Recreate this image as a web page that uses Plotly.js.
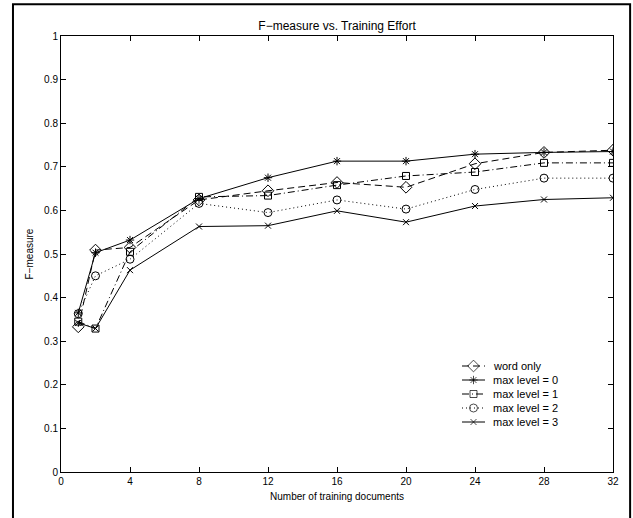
<!DOCTYPE html>
<html>
<head>
<meta charset="utf-8">
<script src="https://cdn.plot.ly/plotly-3.0.1.min.js"></script>
<style>html,body{margin:0;padding:0;background:#fff;}</style>
</head>
<body>
<div id="chart" style="width:633px;height:518px;"></div>
<script>
// Data
const trainingDocs = [1, 2, 4, 8, 12, 16, 20, 24, 28, 32];
const wordOnly  = [0.333, 0.509, 0.515, 0.624, 0.645, 0.664, 0.653, 0.707, 0.733, 0.738];
const maxLevel0 = [0.365, 0.503, 0.532, 0.627, 0.675, 0.713, 0.713, 0.729, 0.733, 0.735];
const maxLevel1 = [0.345, 0.329, 0.505, 0.631, 0.634, 0.658, 0.679, 0.688, 0.709, 0.709];
const maxLevel2 = [0.363, 0.450, 0.488, 0.616, 0.595, 0.624, 0.603, 0.648, 0.674, 0.674];
const maxLevel3 = [0.342, 0.329, 0.463, 0.563, 0.565, 0.599, 0.573, 0.610, 0.625, 0.629];
const seriesNames = ['word only', 'max level = 0', 'max level = 1', 'max level = 2', 'max level = 3'];
const xTicks = [0, 4, 8, 12, 16, 20, 24, 28, 32];
const yTicks = [0, 0.1, 0.2, 0.3, 0.4, 0.5, 0.6, 0.7, 0.8, 0.9, 1];

const fam = 'Liberation Sans, Arial, Helvetica, sans-serif';
const font = {family: fam, size: 10, color: '#000'};
const titleFont = {family: fam, size: 12, color: '#000'};
const legendFont = {family: fam, size: 11, color: '#000'};

// styles per series
const styles = [
  {symbol: 'diamond-open', size: 9, dash: '7px,4px'},
  {symbol: 'asterisk-open', size: 7, dash: 'solid'},
  {symbol: 'square-open', size: 7, dash: '7px,3px,1px,3px'},
  {symbol: 'circle-open', size: 8, dash: '1px,3px'},
  {symbol: 'x-thin-open', size: 6, dash: 'solid'}
];
const seriesValues = [wordOnly, maxLevel0, maxLevel1, maxLevel2, maxLevel3];

const data = seriesValues.map((vals, i) => ({
  x: trainingDocs, y: vals, name: seriesNames[i], type: 'scatter', mode: 'lines+markers',
  showlegend: false,
  line: {color: '#000', width: 1, dash: styles[i].dash},
  marker: {symbol: styles[i].symbol, size: styles[i].size, color: '#000', line: {color: '#000', width: 1}}
}));

// Compact MATLAB-style legend, drawn on a hidden pixel-space overlay axis
const legendLeft = 462, legendMid = 473.5, legendRight = 485, legendText = 491;
const legendTop = 366, legendStep = 14;
seriesNames.forEach((name, i) => {
  const yy = legendTop + i * legendStep;
  data.push({
    x: [legendLeft, legendMid, legendRight], y: [yy, yy, yy], xaxis: 'x2', yaxis: 'y2',
    type: 'scatter', mode: 'lines+markers', showlegend: false, hoverinfo: 'skip',
    line: {color: '#000', width: 1, dash: styles[i].dash},
    marker: {symbol: styles[i].symbol, size: [0, styles[i].size, 0], color: '#000', line: {color: '#000', width: 1}}
  });
});

const axisCommon = {
  showgrid: false, zeroline: false, showline: true, linecolor: '#000', linewidth: 1,
  mirror: 'ticks', ticks: 'inside', ticklen: 5, tickcolor: '#000', tickwidth: 1,
  tickfont: font
};

const layout = {
  width: 633, height: 518,
  margin: {l: 61, r: 20, t: 36, b: 46},
  paper_bgcolor: '#fff', plot_bgcolor: '#fff',
  font: font,
  title: {text: 'F\u2212measure vs. Training Effort', font: titleFont, x: 0.5325, xanchor: 'center', y: 0.95, yanchor: 'middle'},
  xaxis: Object.assign({}, axisCommon, {
    range: [0, 32], tickmode: 'array', tickvals: xTicks, ticktext: xTicks.map(String),
    title: {text: 'Number of training documents', font: font, standoff: 6}
  }),
  yaxis: Object.assign({}, axisCommon, {
    range: [0, 1], tickmode: 'array', tickvals: yTicks, ticktext: yTicks.map(v => String(v)),
    title: {text: 'F\u2212measure', font: font, standoff: 8}
  }),
  xaxis2: {overlaying: 'x', anchor: 'y2', range: [61, 613], visible: false, fixedrange: true},
  yaxis2: {overlaying: 'y', anchor: 'x2', range: [472, 36], visible: false, fixedrange: true},
  showlegend: false,
  annotations: seriesNames.map((name, i) => ({
    text: name, xref: 'x2', yref: 'y2', x: legendText, y: legendTop + i * legendStep,
    xanchor: 'left', yanchor: 'middle', showarrow: false, font: legendFont
  })),
  shapes: [{
    type: 'rect', xref: 'paper', yref: 'paper',
    x0: -0.087, x1: 1.031, y0: -0.3, y1: 1.073,
    line: {color: '#000', width: 2}, fillcolor: 'rgba(0,0,0,0)', layer: 'below'
  }]
};

Plotly.newPlot('chart', data, layout, {displayModeBar: false, staticPlot: true});
</script>
</body>
</html>
